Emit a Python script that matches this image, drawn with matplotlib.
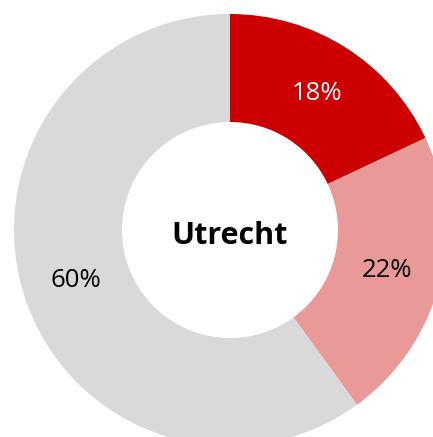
import matplotlib.pyplot as plt

labels = ['A', 'B', 'C']
shares = [18, 22, 60]
colors = ['#CC0000', '#EA9999', '#D9D9D9']
text_colors = ['white', 'black', 'black']
city = 'Utrecht'

plt.rcParams['font.family'] = ['Open Sans', 'DejaVu Sans']

W, H = 433, 437
fig = plt.figure(figsize=(W / 100, H / 100), dpi=100)
# donut centre at (230, 230) px from top-left, outer radius 216 px
ax = fig.add_axes([14 / W, (H - 446) / H, 432 / W, 432 / H])

wedges, texts, autotexts = ax.pie(
    shares, colors=colors, startangle=90, counterclock=False, radius=1,
    wedgeprops=dict(width=0.5, edgecolor='none'),
    autopct='%d%%', pctdistance=0.75, frame=False)
ax.set_xlim(-1, 1)
ax.set_ylim(-1, 1)
ax.axis('off')

for t, c in zip(autotexts, text_colors):
    t.set_color(c)
    t.set_fontsize(18.5)

ax.text(0, -0.03, city, ha='center', va='center', fontsize=22, fontweight='bold')

fig.savefig('out.png', dpi=100)
